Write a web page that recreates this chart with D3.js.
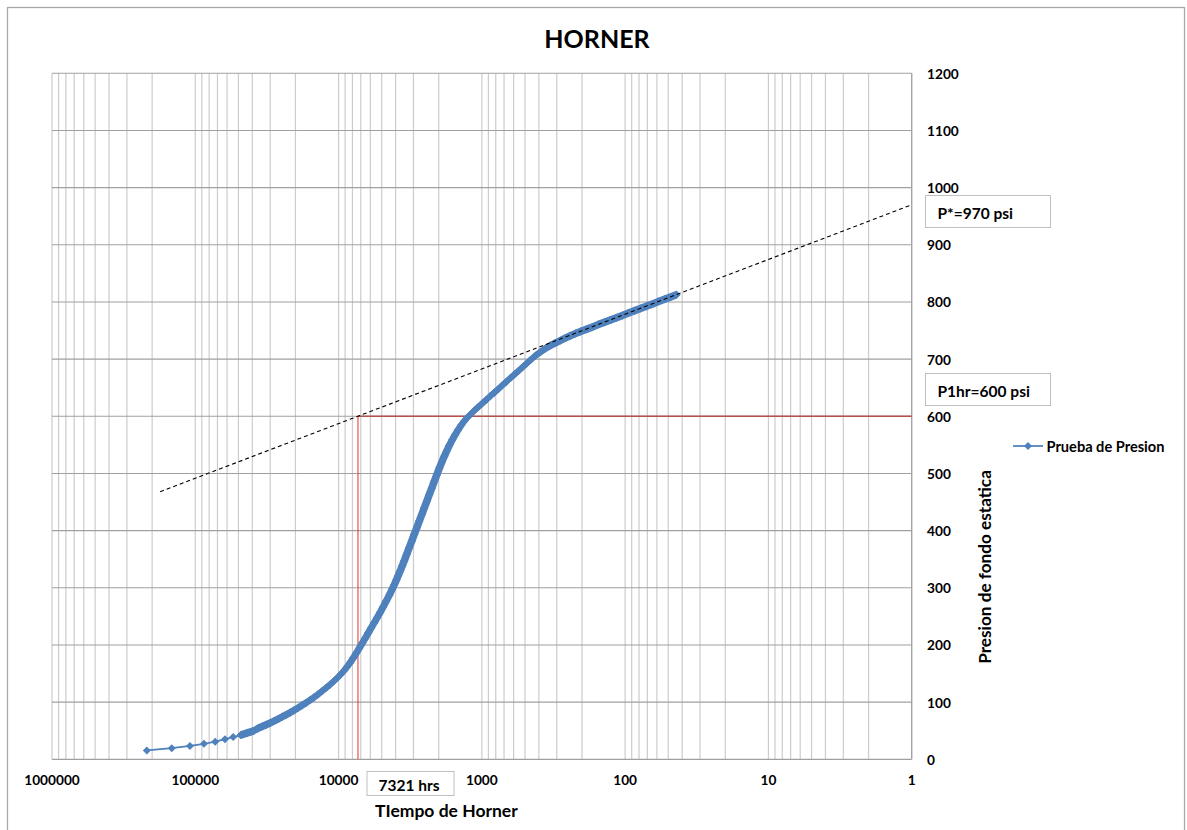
<!DOCTYPE html>
<html>
<head>
<meta charset="utf-8">
<script src="https://cdn.jsdelivr.net/npm/d3@7"></script>
<style>
  body { margin: 0; background: #fff; }
  text { font-family: Lato, "Open Sans", sans-serif; font-weight: bold; fill: #000; }
</style>
</head>
<body>
<svg id="chart" width="1187" height="830"></svg>
<script>
// Horner time (tp + dt) / dt for each pressure reading
const hornerTime = [
  218000, 146000, 109000, 87000, 72600, 62000, 54400, 48100, 43500, 39300,
  36400, 34150, 32010, 30010, 28130, 26370, 24720, 23180, 21730, 20400,
  19130, 17940, 16820, 15770, 14790, 13870, 13000, 12200, 11440, 10720,
  10055, 9581, 9130, 8700, 8290, 7900, 7528,
  7173, 6835, 6513, 6206, 5914, 5635, 5370, 5117, 4876, 4646,
  4428, 4219, 4085, 3956, 3831, 3710, 3592, 3479, 3341, 3210, 3083, 2962,
  2845, 2733, 2625, 2522, 2422, 2327, 2235, 2147, 2062, 1981,
  1903, 1828, 1756, 1687, 1607, 1532, 1459, 1391, 1325, 1263,
  1203, 1128, 1058, 992, 930, 872, 818, 767, 719, 674,
  632, 593, 556, 521, 489, 458,
  423, 390, 360, 332, 307, 283, 261, 241, 222, 205,
  186, 169, 154, 139.5, 126.6, 115, 104.4, 94.8, 86.1, 78.2,
  71, 64.4, 58.5, 53.1, 48.2, 43.8
];

// Static bottom-hole pressure, psi
const pressure = [
  15.5, 19.5, 23.3, 27, 30.8, 35.2, 38.8, 42.3, 45.8, 49.6,
  54.1, 57.2, 60.4, 63.7, 67.2, 70.7, 74.3, 78, 81.9, 85.9,
  90.1, 94.5, 99, 103.7, 108.6, 113.9, 119.3, 125.1, 131, 137.3,
  144.1, 149.6, 155.5, 162.2, 169.3, 177.2, 185.6,
  194.4, 203.1, 211.8, 220.8, 229.9, 239, 248.1, 257.3, 266.9, 276.7,
  287.1, 297.9, 305.4, 313.3, 321.3, 329.7, 338.5, 347.4, 359, 370.5, 382, 393.6,
  405.1, 416.7, 428.4, 439.9, 451.5, 463, 474.6, 486.3, 497.8, 509.2,
  519.9, 530.2, 539.8, 548.9, 559.1, 568.3, 576.9, 584.6, 591.6, 597.7,
  603.3, 610.2, 616.4, 622.7, 629, 635.3, 641.6, 647.9, 654.2, 660.5,
  666.8, 673.1, 679.4, 685.7, 692, 698.3,
  705.8, 712.5, 718.4, 723.7, 728.4, 732.8, 737, 741, 744.8, 748.3,
  752.4, 756.4, 760.4, 764.4, 768.5, 772.5, 776.5, 780.5, 784.6, 788.6,
  792.6, 796.6, 800.6, 804.7, 808.7, 812.7
];

const xTickValues = [1000000, 100000, 10000, 1000, 100, 10, 1];
const xTickLabels = ["1000000", "100000", "10000", "1000", "100", "10", "1"];
const yTickValues = [0, 100, 200, 300, 400, 500, 600, 700, 800, 900, 1000, 1100, 1200];

// Straight-line extrapolation of the semilog trend
const trendTime = [176000, 1];
const trendPressure = [468, 970];

const pStar = 970;
const p1hr = 600;
const tCross = 7321;

const seriesName = "Prueba de Presion";
const blue = "#4F81BD";

const svg = d3.select("#chart");

// outer chart frame
svg.append("rect")
  .attr("x", 7.5).attr("y", 7.5).attr("width", 1177).attr("height", 840)
  .attr("fill", "#fff").attr("stroke", "#a6a6a6").attr("stroke-width", 1.25);

const plot = { left: 52, right: 911.7, top: 73.3, bottom: 759.3 };

const x = d3.scaleLog().domain([1000000, 1]).range([plot.left, plot.right]);
const y = d3.scaleLinear().domain([0, 1200]).range([plot.bottom, plot.top]);

// vertical log gridlines (every 1..9 x decade)
svg.append("g").selectAll("line")
  .data(x.ticks())
  .join("line")
  .attr("x1", d => x(d)).attr("x2", d => x(d))
  .attr("y1", plot.top).attr("y2", plot.bottom)
  .attr("stroke", "#cccccc").attr("stroke-width", 1.2);

// horizontal gridlines
svg.append("g").selectAll("line")
  .data(yTickValues.filter(v => v > 0))
  .join("line")
  .attr("x1", plot.left).attr("x2", plot.right)
  .attr("y1", d => y(d)).attr("y2", d => y(d))
  .attr("stroke", "#a0a0a0").attr("stroke-width", 1.1);

// axis lines
svg.append("line")
  .attr("x1", plot.left).attr("x2", plot.right)
  .attr("y1", y(0)).attr("y2", y(0))
  .attr("stroke", "#a0a0a0").attr("stroke-width", 1.2);
svg.append("line")
  .attr("x1", x(1)).attr("x2", x(1))
  .attr("y1", plot.top).attr("y2", plot.bottom)
  .attr("stroke", "#a0a0a0").attr("stroke-width", 1.2);

// y tick labels on the right side
svg.append("g").selectAll("text")
  .data(yTickValues)
  .join("text")
  .attr("x", 927).attr("y", d => y(d))
  .attr("dominant-baseline", "central")
  .style("font-size", "13.7px")
  .text(d => d);

// x tick labels
svg.append("g").selectAll("text")
  .data(xTickValues)
  .join("text")
  .attr("x", d => x(d)).attr("y", 779.5)
  .attr("text-anchor", "middle")
  .attr("dominant-baseline", "central")
  .style("font-size", "13.7px")
  .text((d, i) => xTickLabels[i]);

// P1hr reference lines
svg.append("line")
  .attr("x1", x(tCross)).attr("x2", x(tCross))
  .attr("y1", y(0)).attr("y2", y(p1hr))
  .attr("stroke", "#E84040").attr("stroke-width", 1.1);
svg.append("line")
  .attr("x1", x(tCross)).attr("x2", x(1))
  .attr("y1", y(p1hr)).attr("y2", y(p1hr))
  .attr("stroke", "#B5504C").attr("stroke-width", 1.5);

// pressure series
const pts = hornerTime.map((t, i) => [x(t), y(pressure[i])]);
const r = 4;
const diamond = ([px, py]) => [[px, py - r], [px + r, py], [px, py + r], [px - r, py]];

// where consecutive markers crowd together they merge into a solid band
const band = svg.append("g").attr("fill", blue);
for (let i = 0; i < pts.length - 1; i++) {
  const a = pts[i], b = pts[i + 1];
  if (Math.hypot(b[0] - a[0], b[1] - a[1]) < 7.5) {
    const hull = d3.polygonHull(diamond(a).concat(diamond(b)));
    band.append("path").attr("d", "M" + hull.join("L") + "Z");
  }
}

svg.append("path")
  .datum(pts)
  .attr("d", d3.line())
  .attr("fill", "none")
  .attr("stroke", blue)
  .attr("stroke-width", 1.75);

svg.append("g").selectAll("path")
  .data(pts)
  .join("path")
  .attr("d", d => "M" + diamond(d).join("L") + "Z")
  .attr("fill", blue);

// extrapolated trend line
svg.append("line")
  .attr("x1", x(trendTime[0])).attr("y1", y(trendPressure[0]))
  .attr("x2", x(trendTime[1])).attr("y2", y(trendPressure[1]))
  .attr("stroke", "#000").attr("stroke-width", 1.1)
  .attr("stroke-dasharray", "4,3");

// title
svg.append("text")
  .attr("x", 597).attr("y", 38)
  .attr("text-anchor", "middle").attr("dominant-baseline", "central")
  .style("font-size", "25px")
  .text("HORNER");

// axis titles
svg.append("text")
  .attr("x", 375).attr("y", 810)
  .attr("dominant-baseline", "central")
  .style("font-size", "17.5px")
  .text("TIempo de Horner");

svg.append("text")
  .attr("transform", "translate(984,567) rotate(-90)")
  .attr("text-anchor", "middle").attr("dominant-baseline", "central")
  .style("font-size", "17.2px")
  .text("Presion de fondo estatica");

// annotation boxes
function labelBox(bx, by, bw, bh, tx, label) {
  svg.append("rect")
    .attr("x", bx).attr("y", by).attr("width", bw).attr("height", bh)
    .attr("fill", "#fff").attr("stroke", "#bfbfbf").attr("stroke-width", 1);
  svg.append("text")
    .attr("x", tx).attr("y", by + bh / 2 + 1)
    .attr("dominant-baseline", "central")
    .style("font-size", "15.5px")
    .text(label);
}
labelBox(925.5, 195.5, 125, 32, 937.5, `P*=${pStar} psi`);
labelBox(925.5, 373.5, 125, 32, 937.5, `P1hr=${p1hr} psi`);
labelBox(367, 771.5, 87, 24, 378.5, `${tCross} hrs`);

// legend
svg.append("line")
  .attr("x1", 1013).attr("x2", 1043).attr("y1", 446).attr("y2", 446)
  .attr("stroke", blue).attr("stroke-width", 1.75);
svg.append("path")
  .attr("d", "M" + diamond([1028, 446]).join("L") + "Z")
  .attr("fill", blue);
svg.append("text")
  .attr("x", 1046.5).attr("y", 446.5)
  .attr("dominant-baseline", "central")
  .style("font-size", "14.6px")
  .text(seriesName);
</script>
</body>
</html>
